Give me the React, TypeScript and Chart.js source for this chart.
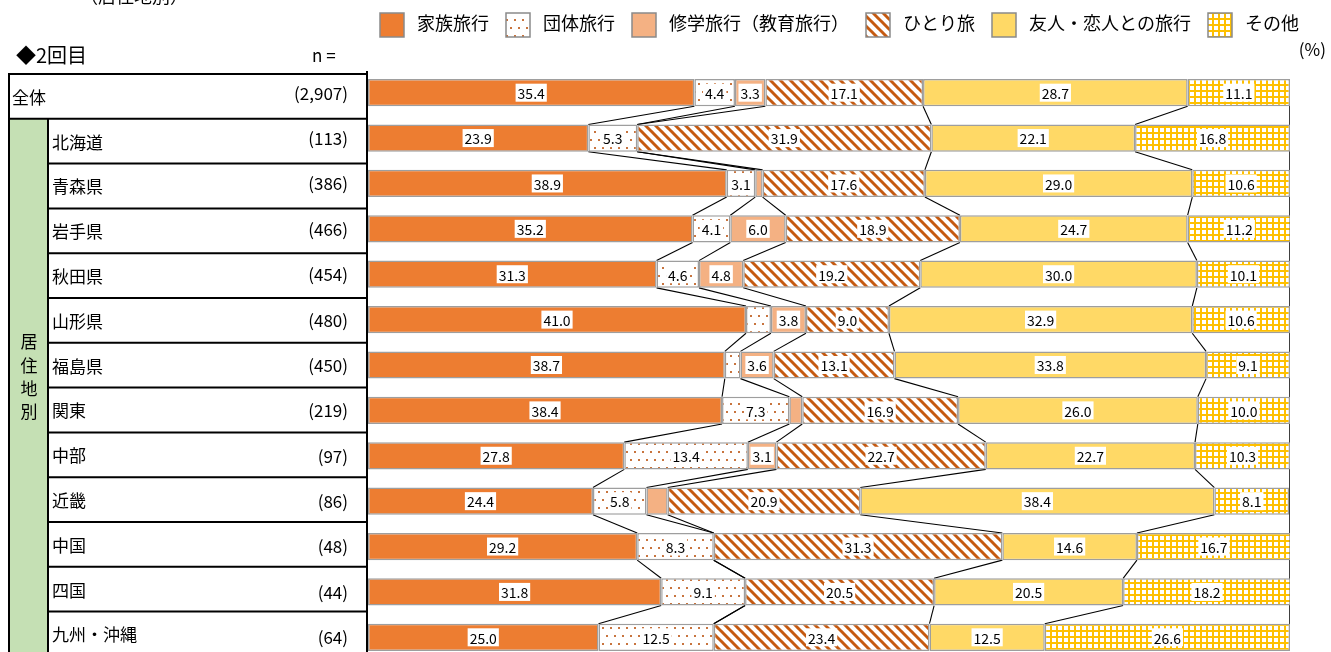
import React, { useEffect, useRef } from 'react';
import { Chart, registerables } from 'chart.js';

Chart.register(...registerables);

// ---------- data ----------
const categories = ['全体', '北海道', '青森県', '岩手県', '秋田県', '山形県', '福島県', '関東', '中部', '近畿', '中国', '四国', '九州・沖縄'];
const sampleSizes = ['(2,907)', '(113)', '(386)', '(466)', '(454)', '(480)', '(450)', '(219)', '(97)', '(86)', '(48)', '(44)', '(64)'];
const seriesNames = ['家族旅行', '団体旅行', '修学旅行（教育旅行）', 'ひとり旅', '友人・恋人との旅行', 'その他'];
const familyTrip = [35.4, 23.9, 38.9, 35.2, 31.3, 41.0, 38.7, 38.4, 27.8, 24.4, 29.2, 31.8, 25.0];
const groupTrip = [4.4, 5.3, 3.1, 4.1, 4.6, 2.7, 1.7, 7.3, 13.4, 5.8, 8.3, 9.1, 12.5];
const schoolTrip = [3.3, 0, 0.8, 6.0, 4.8, 3.8, 3.6, 1.4, 3.1, 2.3, 0, 0, 0];
const soloTrip = [17.1, 31.9, 17.6, 18.9, 19.2, 9.0, 13.1, 16.9, 22.7, 20.9, 31.3, 20.5, 23.4];
const friendsTrip = [28.7, 22.1, 29.0, 24.7, 30.0, 32.9, 33.8, 26.0, 22.7, 38.4, 14.6, 20.5, 12.5];
const otherTrip = [11.1, 16.8, 10.6, 11.2, 10.1, 10.6, 9.1, 10.0, 10.3, 8.1, 16.7, 18.2, 26.6];
const groupTitle = '居住地別';
const roundTitle = '◆2回目';
const labelThreshold = 3;

const FONT = '"Noto Sans CJK JP", "Noto Sans", sans-serif';

function makePattern(kind: string): CanvasPattern | string {
  const c = document.createElement('canvas');
  const x = c.getContext('2d')!;
  if (kind === 'dots') {
    c.width = 8; c.height = 16;
    x.fillStyle = '#ffffff'; x.fillRect(0, 0, 8, 16);
    x.fillStyle = '#C8743E';
    x.fillRect(2, 3, 2, 2);
    x.fillRect(6, 11, 2, 2);
  } else if (kind === 'stripes') {
    c.width = 10; c.height = 10;
    x.fillStyle = '#ffffff'; x.fillRect(0, 0, 10, 10);
    x.strokeStyle = '#C55A11'; x.lineWidth = 3;
    for (const k of [-10, 0, 10]) {
      x.beginPath(); x.moveTo(k - 1, -1); x.lineTo(k + 11, 11); x.stroke();
    }
  } else if (kind === 'grid') {
    c.width = 6; c.height = 6;
    x.fillStyle = '#ffffff'; x.fillRect(0, 0, 6, 6);
    x.fillStyle = '#FFC000';
    x.fillRect(0, 0, 6, 2);
    x.fillRect(0, 0, 2, 6);
  }
  return x.createPattern(c, 'repeat')!;
}

const TABLE_TOP = 74;
const ROW_H = 44.8;

const decorPlugin = {
  id: 'decor',
  beforeDatasetsDraw(chart: any) {
    const ctx = chart.ctx as CanvasRenderingContext2D;
    const n = categories.length;
    const metas = chart.data.datasets.map((_: any, i: number) => chart.getDatasetMeta(i));
    const first = metas[0].data[0];
    const last = metas[0].data[n - 1];
    const xr = chart.scales.x.getPixelForValue(100);
    ctx.save();
    ctx.strokeStyle = '#404040';
    ctx.lineWidth = 1;
    ctx.beginPath();
    ctx.moveTo(Math.round(xr) - 0.5, first.y - first.height / 2);
    ctx.lineTo(Math.round(xr) - 0.5, last.y + last.height / 2);
    ctx.stroke();
    // series lines between neighbouring bars
    ctx.strokeStyle = '#000000';
    ctx.lineWidth = 1.1;
    for (let k = 0; k < metas.length - 1; k++) {
      for (let i = 0; i < n - 1; i++) {
        const a = metas[k].data[i];
        const b = metas[k].data[i + 1];
        ctx.beginPath();
        ctx.moveTo(a.x, a.y + a.height / 2);
        ctx.lineTo(b.x, b.y - b.height / 2);
        ctx.stroke();
      }
    }
    ctx.restore();
  },
  afterDatasetsDraw(chart: any) {
    const ctx = chart.ctx as CanvasRenderingContext2D;
    ctx.save();
    ctx.font = `14px ${FONT}`;
    ctx.textAlign = 'center';
    ctx.textBaseline = 'middle';
    chart.data.datasets.forEach((ds: any, di: number) => {
      const meta = chart.getDatasetMeta(di);
      meta.data.forEach((el: any, i: number) => {
        const v = ds.data[i];
        if (v < labelThreshold) return;
        const txt = v.toFixed(1);
        const cx = (el.x + el.base) / 2;
        const cy = el.y;
        const w = ctx.measureText(txt).width;
        ctx.fillStyle = '#ffffff';
        ctx.fillRect(cx - w / 2 - 2, cy - 9, w + 4, 18);
        ctx.fillStyle = '#000000';
        ctx.fillText(txt, cx, cy + 1);
      });
    });
    ctx.restore();
  },
  afterDraw(chart: any) {
    const ctx = chart.ctx as CanvasRenderingContext2D;
    const H = chart.height;
    const n = categories.length;
    const yScale = chart.scales.y;
    const rowTop = (r: number) => TABLE_TOP + r * ROW_H;
    ctx.save();
    // green group column
    ctx.fillStyle = '#C5E0B4';
    ctx.fillRect(9, rowTop(1), 39, H - rowTop(1));
    // table lines
    ctx.strokeStyle = '#000000';
    ctx.lineWidth = 2;
    ctx.beginPath();
    ctx.moveTo(8, rowTop(0)); ctx.lineTo(367, rowTop(0));
    ctx.moveTo(8, rowTop(1)); ctx.lineTo(367, rowTop(1));
    for (let r = 2; r < n; r++) {
      ctx.moveTo(48, rowTop(r)); ctx.lineTo(367, rowTop(r));
    }
    ctx.moveTo(9, rowTop(0) - 1); ctx.lineTo(9, H);
    ctx.moveTo(48, rowTop(1)); ctx.lineTo(48, H);
    ctx.moveTo(367, 71); ctx.lineTo(367, H);
    ctx.stroke();
    // row labels and n
    ctx.fillStyle = '#000000';
    ctx.textBaseline = 'middle';
    for (let r = 0; r < n; r++) {
      ctx.font = `17px ${FONT}`;
      ctx.textAlign = 'left';
      ctx.fillText(categories[r], r === 0 ? 12 : 52, rowTop(r) + ROW_H / 2 + 1);
      ctx.textAlign = 'right';
      ctx.fillText(sampleSizes[r], 348, yScale.getPixelForValue(r) + 0.5);
    }
    // vertical group label
    ctx.font = `17px ${FONT}`;
    ctx.textAlign = 'center';
    Array.from(groupTitle).forEach((ch, j) => {
      ctx.fillText(ch, 29, 342 + j * 23.3);
    });
    // headers
    ctx.textAlign = 'left';
    ctx.font = `20px ${FONT}`;
    ctx.fillText(roundTitle, 16, 55);
    ctx.font = `17px ${FONT}`;
    ctx.fillText('n =', 312, 56);
    ctx.textAlign = 'right';
    ctx.fillText('(%)', 1326, 50);
    // cut-off title fragment at the very top
    ctx.textAlign = 'left';
    ctx.font = `18px ${FONT}`;
    ctx.textBaseline = 'alphabetic';
    ctx.fillText('（居住地別）', 80, 3);
    // legend
    ctx.textBaseline = 'middle';
    ctx.font = `18px ${FONT}`;
    let lx = 380;
    chart.data.datasets.forEach((ds: any) => {
      ctx.fillStyle = ds.backgroundColor;
      ctx.fillRect(lx, 13, 24, 24);
      ctx.strokeStyle = '#8a8a8a';
      ctx.lineWidth = 1.5;
      ctx.strokeRect(lx, 13, 24, 24);
      ctx.fillStyle = '#000000';
      ctx.fillText(ds.label, lx + 37, 23);
      lx = lx + 37 + ctx.measureText(ds.label).width + 17;
    });
    ctx.restore();
  },
};

export default function App() {
  const ref = useRef<HTMLCanvasElement>(null);
  useEffect(() => {
    const canvas = ref.current!;
    const fills = [
      '#ED7D31',
      makePattern('dots'),
      '#F4B183',
      makePattern('stripes'),
      '#FFD966',
      makePattern('grid'),
    ];
    const values = [familyTrip, groupTrip, schoolTrip, soloTrip, friendsTrip, otherTrip];
    const chart = new Chart(canvas, {
      type: 'bar',
      data: {
        labels: categories,
        datasets: values.map((d, i) => ({
          label: seriesNames[i],
          data: d,
          backgroundColor: fills[i] as any,
          borderColor: '#9E9E9E',
          borderWidth: 1.5,
          borderSkipped: false,
          categoryPercentage: 1,
          barPercentage: 0.6,
        })),
      },
      options: {
        indexAxis: 'y',
        responsive: false,
        animation: false,
        devicePixelRatio: 1,
        events: [],
        layout: { padding: { left: 368, right: 41, top: 70, bottom: 5 } },
        plugins: { legend: { display: false }, tooltip: { enabled: false }, title: { display: false } },
        scales: {
          x: { stacked: true, min: 0, max: 100, display: false },
          y: { stacked: true, display: false },
        },
      },
      plugins: [decorPlugin],
    });
    return () => chart.destroy();
  }, []);
  return (
    <div style={{ position: 'fixed', left: 0, top: 0, width: 1331, height: 652, overflow: 'hidden', background: '#ffffff' }}>
      <canvas ref={ref} width={1331} height={665} style={{ display: 'block', width: 1331, height: 665 }} />
    </div>
  );
}
